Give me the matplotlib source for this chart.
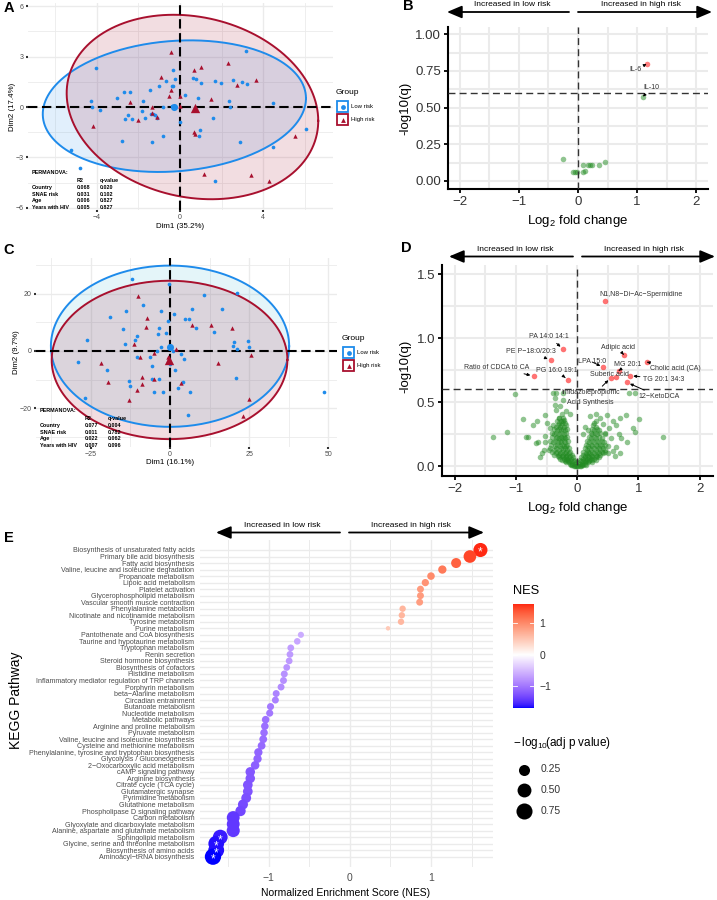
import numpy as np
import matplotlib
matplotlib.use("Agg")
import matplotlib.pyplot as plt
from matplotlib.patches import Rectangle
from matplotlib.colors import ListedColormap, Normalize

plt.rcParams['font.family'] = ['Liberation Sans', 'DejaVu Sans']
plt.rcParams['mathtext.fontset'] = 'custom'
plt.rcParams['mathtext.rm'] = 'Liberation Sans'
plt.rcParams['mathtext.it'] = 'Liberation Sans:italic'

W, H = 717, 900

# ---------------- data ----------------
# panel A (PCA, first set)
a_low = [(3.17, 3.30), (-4.05, 2.32), (-0.32, 2.18), (-0.24, 1.66), (0.61, 1.72), (0.75, 1.68),
         (1.03, 1.43), (1.70, 1.52), (1.97, 1.43), (2.56, 1.62), (2.99, 1.47), (3.21, 1.39),
         (-0.69, 1.56), (-0.99, 1.27), (-0.40, 1.27), (-0.32, 1.27), (-1.44, 1.03), (-2.68, 0.89),
         (-2.40, 0.91), (-3.01, 0.55), (0.24, 0.71), (0.87, 0.51), (-1.76, 0.34), (-4.29, 0.36),
         (2.37, 0.34), (4.49, 0.24), (-4.25, 0.00), (-3.85, -0.16), (-0.40, 0.08), (-0.22, 0.04),
         (-0.83, 0.00), (-1.84, -0.22), (-1.41, -0.40), (-1.31, -0.42), (-1.20, -0.50), (-1.12, -0.67),
         (-1.67, -0.63), (-2.63, -0.71), (-2.50, -0.50), (-2.31, -0.71), (2.40, 0.00), (0.00, -0.91),
         (1.57, -0.65), (0.98, -1.35), (0.91, -1.70), (-0.80, -1.74), (-2.80, -2.04), (-1.33, -2.10),
         (2.88, -2.08), (4.46, -2.38), (6.04, -1.31), (-5.26, -2.57), (-4.79, -3.62), (1.67, -4.40)]
a_high = [(-0.45, 3.25), (2.29, 2.61), (0.67, 2.18), (1.01, 2.38), (3.65, 1.58), (-0.91, 1.78),
          (2.72, 1.29), (-0.45, 1.03), (-0.53, 0.67), (0.02, 0.67), (1.47, 0.50), (-2.40, 0.28),
          (-1.33, 0.00), (-1.36, -0.36), (-1.12, -0.59), (-2.00, -0.79), (-4.20, -1.11), (0.67, -1.50),
          (0.71, -1.60), (5.51, -1.70), (1.17, -3.96), (3.40, -4.06), (4.26, -4.42), (0.00, 0.04)]
a_centers = [(-0.30, 0.02), (0.72, -0.06)]
# ellipse: centre x, centre y, half-range x, half-range y, correlation
a_ellipses = [(-0.27, 0.05, 6.33, 3.91, 0.12), (0.60, 0.00, 6.05, 5.48, -0.15)]
a_perm = [("Country", "0.068", "0.020"), ("SNAE risk", "0.031", "0.102"),
          ("Age", "0.006", "0.827"), ("Years with HIV", "0.005", "0.827")]

# panel C (PCA, second set)
c_low = [(-12.1, 25.2), (-0.3, 23.3), (10.7, 19.7), (21.1, 20.2), (-8.4, 15.9), (-13.9, 14.0),
         (-2.9, 13.8), (1.4, 12.8), (16.4, 14.6), (-19.0, 12.0), (6.8, 14.6), (4.7, 11.3),
         (6.1, 11.1), (-0.7, 10.3), (-14.9, 7.8), (-3.5, 8.0), (8.3, 7.9), (14.0, 6.5),
         (-3.7, 5.9), (-1.4, 6.2), (-10.4, 5.2), (-11.0, 3.8), (-26.2, 3.8), (-14.1, 2.3),
         (20.2, 3.0), (19.8, 1.6), (24.6, 3.6), (25.0, 1.2), (21.2, 0.6), (-2.8, 1.3),
         (-4.2, -0.2), (0.8, -0.2), (-10.5, -2.2), (-6.3, -2.0), (3.5, -1.0), (4.3, -2.9),
         (-29.2, -3.7), (-0.1, -4.7), (-5.6, -5.1), (-19.8, -6.8), (1.7, -6.8), (20.7, -9.3),
         (-5.7, -9.8), (-3.6, -9.8), (-12.9, -10.6), (-12.6, -12.2), (4.1, -10.7), (2.4, -12.9),
         (-5.0, -14.2), (-2.1, -14.2), (6.3, -14.5), (48.6, -14.2), (-26.7, -16.3), (5.7, -22.4)]
c_high = [(-10.2, 19.2), (-7.3, 11.5), (-7.6, 8.3), (6.9, 8.9), (12.9, 9.0), (19.6, 7.9),
          (-11.4, 2.3), (1.9, 0.8), (-9.5, -2.2), (-5.0, -0.8), (-21.8, -4.1), (-0.6, -2.0),
          (-0.4, -2.9), (25.7, -1.5), (15.1, -4.3), (-8.7, -9.0), (-5.0, -9.7), (3.5, -11.1),
          (-19.5, -10.7), (-9.0, -11.7), (-10.3, -13.8), (-13.1, -17.2), (25.0, -16.7), (22.9, -22.6)]
c_centers = [(0.1, 1.5), (-0.3, -3.3)]
c_ellipses = [(0.0, 1.65, 37.6, 28.2, 0.0), (-0.15, -3.15, 37.2, 27.7, 0.0)]
c_perm = [("Country", "0.077", "0.004"), ("SNAE risk", "0.011", "0.782"),
          ("Age", "0.022", "0.062"), ("Years with HIV", "0.007", "0.096")]

# panel B (cytokines volcano)
b_lfc = [-0.25, -0.09, -0.05, -0.02, 0.08, 0.09, 0.12, 0.17, 0.20, 0.23, 0.36, 0.46, 1.10, 1.16]
b_logq = [0.148, 0.063, 0.063, 0.063, 0.109, 0.063, 0.070, 0.109, 0.109, 0.109, 0.109, 0.127, 0.575, 0.797]
b_labels = ["IL-6", "IL-10"]
b_lab_pts = [(1.16, 0.797), (1.10, 0.575)]
b_lab_pos = [(0.98, 0.76), (1.24, 0.636)]

# panel D (metabolites volcano)
d_sig_names = ["N1,N8\u2212Di\u2212Ac\u2212Spermidine", "PA 14:0 14:1", "PE P\u221218:0/20:3",
               "Ratio of CDCA to CA", "PG 16:0 19:1", "Adipic acid", "LPA 15:0", "MG 20:1",
               "Cholic acid (CA)", "Suberic acid", "Imidazolepropionic\nAcid Synthesis",
               "TG 20:1 34:3", "12\u2212KetoDCA"]
d_sig_lfc = [0.45, -0.23, -0.43, -0.71, -0.15, 0.76, 0.43, 0.68, 1.14, 0.63, 0.55, 0.86, 0.81]
d_sig_logq = [1.29, 0.916, 0.828, 0.705, 0.674, 0.872, 0.773, 0.747, 0.815, 0.695, 0.692, 0.708, 0.656]
d_lab_x = [1.05, -0.46, -0.76, -1.32, -0.33, 0.66, 0.235, 0.83, 1.60, 0.53, 0.22, 1.42, 1.34]
d_lab_y = [1.346, 1.013, 0.895, 0.773, 0.745, 0.927, 0.817, 0.797, 0.763, 0.721, 0.536, 0.682, 0.544]
d_no_arrow = [0, 9]
d_ns = [(-1.02, 0.565), (-0.39, 0.57), (-0.34, 0.575), (-0.36, 0.53), (-0.23, 0.57), (-0.23, 0.52),
        (0.85, 0.57), (0.94, 0.57), (-0.18, 0.43), (-0.37, 0.48), (-0.35, 0.44), (-0.53, 0.40),
        (-0.12, 0.41), (-0.89, 0.367), (-0.66, 0.35), (-0.72, 0.32), (-1.15, 0.27), (-1.38, 0.226),
        (-0.84, 0.23), (-0.80, 0.226), (-0.67, 0.18), (-0.64, 0.19), (-0.53, 0.24), (-0.53, 0.19),
        (-0.54, 0.13), (-0.46, 0.13), (0.31, 0.41), (0.21, 0.39), (0.37, 0.38), (0.48, 0.40),
        (0.59, 0.35), (0.64, 0.32), (0.80, 0.40), (0.70, 0.38), (1.01, 0.37), (0.91, 0.30),
        (0.94, 0.27), (1.40, 0.226), (0.81, 0.19), (0.64, 0.15), (0.52, 0.30), (0.46, 0.26),
        (0.55, 0.22), (0.68, 0.25), (0.72, 0.22), (0.58, 0.12), (0.50, 0.10), (-0.45, 0.30),
        (-0.50, 0.34), (-0.28, 0.47), (-0.25, 0.41), (-0.30, 0.38), (-0.22, 0.36), (0.12, 0.31),
        (0.18, 0.28), (0.10, 0.25), (0.30, 0.35), (0.42, 0.33), (-0.60, 0.07), (-0.58, 0.10),
        (0.62, 0.08), (0.70, 0.10)]
d_core = [(-0.06, 0.005), (-0.04, 0.005), (-0.02, 0.005), (0.0, 0.005), (0.02, 0.005), (0.04, 0.005),
          (0.06, 0.005), (-0.12, 0.02), (-0.08, 0.02), (-0.04, 0.02), (0.04, 0.02), (0.08, 0.02),
          (0.12, 0.02), (-0.20, 0.04), (-0.15, 0.04), (-0.10, 0.04), (-0.06, 0.04), (0.06, 0.04),
          (0.10, 0.04), (0.15, 0.04), (0.20, 0.04), (-0.28, 0.06), (-0.22, 0.06), (-0.16, 0.06),
          (-0.10, 0.06), (0.10, 0.06), (0.16, 0.06), (0.22, 0.06), (0.28, 0.06), (-0.32, 0.08),
          (-0.25, 0.08), (-0.18, 0.08), (-0.12, 0.08), (0.12, 0.08), (0.18, 0.08), (0.25, 0.08),
          (0.32, 0.08), (-0.35, 0.10), (-0.28, 0.10), (-0.20, 0.10), (-0.14, 0.10), (0.14, 0.10),
          (0.20, 0.10), (0.28, 0.10), (0.35, 0.10), (0.42, 0.10), (-0.38, 0.13), (-0.30, 0.13),
          (-0.24, 0.13), (-0.17, 0.13), (0.16, 0.13), (0.22, 0.13), (0.30, 0.13), (0.38, 0.13),
          (0.45, 0.13), (-0.36, 0.16), (-0.28, 0.16), (-0.22, 0.16), (-0.18, 0.16), (0.18, 0.16),
          (0.25, 0.16), (0.32, 0.16), (0.40, 0.16), (0.50, 0.16), (-0.40, 0.19), (-0.32, 0.19),
          (-0.26, 0.19), (-0.20, 0.19), (0.20, 0.19), (0.28, 0.19), (0.36, 0.19), (0.44, 0.19),
          (-0.35, 0.22), (-0.30, 0.22), (-0.25, 0.22), (-0.20, 0.22), (0.22, 0.22), (0.30, 0.22),
          (0.40, 0.22), (-0.38, 0.25), (-0.30, 0.25), (-0.22, 0.25), (0.25, 0.25), (0.32, 0.25),
          (0.45, 0.25), (-0.33, 0.28), (-0.27, 0.28), (-0.20, 0.28), (0.28, 0.28), (0.35, 0.28),
          (-0.35, 0.31), (-0.28, 0.31), (-0.22, 0.31), (0.30, 0.31), (-0.30, 0.34), (-0.25, 0.34),
          (-0.20, 0.34), (0.28, 0.34),
          (-0.10, 0.01), (-0.08, 0.01), (0.08, 0.01), (0.10, 0.01), (0.14, 0.01),
          (-0.18, 0.03), (-0.13, 0.03), (-0.02, 0.03), (0.02, 0.03), (0.13, 0.03), (0.18, 0.03),
          (0.24, 0.03), (-0.25, 0.05), (-0.19, 0.05), (-0.13, 0.05), (-0.05, 0.05), (0.05, 0.05),
          (0.13, 0.05), (0.19, 0.05), (0.25, 0.05), (0.30, 0.05), (-0.30, 0.07), (-0.24, 0.07),
          (-0.19, 0.07), (-0.13, 0.07), (-0.07, 0.07), (0.07, 0.07), (0.13, 0.07), (0.19, 0.07),
          (0.24, 0.07), (0.30, 0.07), (0.36, 0.07), (-0.38, 0.09), (-0.30, 0.09), (-0.23, 0.09),
          (-0.16, 0.09), (-0.09, 0.09), (0.09, 0.09), (0.16, 0.09), (0.23, 0.09), (0.30, 0.09),
          (0.38, 0.09), (-0.42, 0.11), (-0.33, 0.11), (-0.25, 0.11), (-0.18, 0.11), (-0.11, 0.11),
          (0.10, 0.11), (0.17, 0.11), (0.25, 0.11), (0.33, 0.11), (0.40, 0.11), (0.46, 0.11),
          (-0.44, 0.14), (-0.35, 0.14), (-0.27, 0.14), (-0.20, 0.14), (-0.13, 0.14), (0.12, 0.14),
          (0.19, 0.14), (0.27, 0.14), (0.35, 0.14), (0.42, 0.14), (-0.43, 0.17), (-0.33, 0.17),
          (-0.25, 0.17), (-0.16, 0.17), (0.14, 0.17), (0.22, 0.17), (0.30, 0.17), (0.37, 0.17),
          (0.46, 0.17), (-0.44, 0.20), (-0.36, 0.20), (-0.28, 0.20), (-0.22, 0.20), (-0.15, 0.20),
          (0.16, 0.20), (0.24, 0.20), (0.33, 0.20), (0.41, 0.20), (-0.41, 0.23), (-0.33, 0.23),
          (-0.27, 0.23), (-0.22, 0.23), (-0.16, 0.23), (0.19, 0.23), (0.27, 0.23), (0.35, 0.23),
          (-0.42, 0.26), (-0.34, 0.26), (-0.26, 0.26), (-0.18, 0.26), (0.22, 0.26), (0.29, 0.26),
          (0.38, 0.26), (-0.38, 0.29), (-0.30, 0.29), (-0.24, 0.29), (-0.17, 0.29), (0.24, 0.29),
          (0.33, 0.29), (-0.40, 0.32), (-0.32, 0.32), (-0.26, 0.32), (-0.19, 0.32), (0.26, 0.32),
          (-0.33, 0.35), (-0.27, 0.35), (-0.23, 0.35), (-0.29, 0.38), (-0.24, 0.38)]

# panel E (KEGG enrichment)
pathways = ["Biosynthesis of unsaturated fatty acids", "Primary bile acid biosynthesis",
            "Fatty acid biosynthesis", "Valine, leucine and isoleucine degradation",
            "Propanoate metabolism", "Lipoic acid metabolism", "Platelet activation",
            "Glycerophospholipid metabolism", "Vascular smooth muscle contraction",
            "Phenylalanine metabolism", "Nicotinate and nicotinamide metabolism",
            "Tyrosine metabolism", "Purine metabolism", "Pantothenate and CoA biosynthesis",
            "Taurine and hypotaurine metabolism", "Tryptophan metabolism", "Renin secretion",
            "Steroid hormone biosynthesis", "Biosynthesis of cofactors", "Histidine metabolism",
            "Inflammatory mediator regulation of TRP channels", "Porphyrin metabolism",
            "beta\u2212Alanine metabolism", "Circadian entrainment", "Butanoate metabolism",
            "Nucleotide metabolism", "Metabolic pathways", "Arginine and proline metabolism",
            "Pyruvate metabolism", "Valine, leucine and isoleucine biosynthesis",
            "Cysteine and methionine metabolism",
            "Phenylalanine, tyrosine and tryptophan biosynthesis", "Glycolysis / Gluconeogenesis",
            "2\u2212Oxocarboxylic acid metabolism", "cAMP signaling pathway", "Arginine biosynthesis",
            "Citrate cycle (TCA cycle)", "Glutamatergic synapse", "Pyrimidine metabolism",
            "Glutathione metabolism", "Phospholipase D signaling pathway", "Carbon metabolism",
            "Glyoxylate and dicarboxylate metabolism", "Alanine, aspartate and glutamate metabolism",
            "Sphingolipid metabolism", "Glycine, serine and threonine metabolism",
            "Biosynthesis of amino acids", "Aminoacyl\u2212tRNA biosynthesis"]
nes = [1.61, 1.48, 1.31, 1.14, 1.00, 0.93, 0.87, 0.87, 0.86, 0.65, 0.64, 0.63, 0.47,
       -0.605, -0.65, -0.73, -0.74, -0.75, -0.78, -0.81, -0.82, -0.85, -0.91, -0.92, -0.98,
       -0.99, -1.04, -1.05, -1.06, -1.07, -1.09, -1.13, -1.14, -1.17, -1.23, -1.23, -1.26,
       -1.26, -1.28, -1.32, -1.35, -1.44, -1.44, -1.44, -1.60, -1.65, -1.65, -1.69]
neglog_padj = [0.52, 0.38, 0.18, 0.09, 0.06, 0.05, 0.04, 0.04, 0.04, 0.025, 0.025, 0.025, 0.0005,
               0.02, 0.03, 0.035, 0.035, 0.035, 0.035, 0.04, 0.04, 0.04, 0.04, 0.04, 0.045,
               0.045, 0.06, 0.06, 0.06, 0.07, 0.07, 0.09, 0.09, 0.1, 0.15, 0.15, 0.16,
               0.16, 0.17, 0.18, 0.2, 0.4, 0.4, 0.42, 0.6, 0.7, 0.72, 0.78]
starred = [0, 44, 45, 46, 47]
size_breaks = [0.25, 0.50, 0.75]

# ---------------- helpers ----------------
LOW_COL = "#1E8BEB"
HIGH_COL = "#A8102E"
GRID = "#EBEBEB"


def rect(l, t, r, b):
    return [l / W, 1 - b / H, (r - l) / W, (b - t) / H]


def ellipse(cx, cy, rx, ry, rho):
    t = np.linspace(0, 2 * np.pi, 300)
    return cx + rx * np.cos(t), cy + ry * (rho * np.cos(t) + np.sqrt(1 - rho ** 2) * np.sin(t))


WHITE = np.array([0.95047, 1.0, 1.08883])
MXYZ = np.array([[0.4124, 0.3576, 0.1805], [0.2126, 0.7152, 0.0722], [0.0193, 0.1192, 0.9505]])


def to_lab(rgb):
    c = np.asarray(rgb, float)
    lin = np.where(c <= 0.04045, c / 12.92, ((c + 0.055) / 1.055) ** 2.4)
    xyz = MXYZ @ lin / WHITE
    d = 6 / 29
    f = np.where(xyz > d ** 3, np.cbrt(xyz), xyz / (3 * d * d) + 4 / 29)
    return np.array([116 * f[1] - 16, 500 * (f[0] - f[1]), 200 * (f[1] - f[2])])


def from_lab(lab):
    L, a, b = lab
    d = 6 / 29
    fyy = (L + 16) / 116
    f = np.array([fyy + a / 500, fyy, fyy - b / 200])
    xyz = np.where(f > d, f ** 3, 3 * d * d * (f - 4 / 29)) * WHITE
    lin = np.clip(np.linalg.solve(MXYZ, xyz), 0, 1)
    c = np.where(lin <= 0.0031308, 12.92 * lin, 1.055 * lin ** (1 / 2.4) - 0.055)
    return np.clip(c, 0, 1)


lab_lo, lab_mid, lab_hi = to_lab((0, 0, 1)), to_lab((1, 1, 1)), to_lab((1, 0, 0))
cols = []
for t in np.linspace(0, 1, 256):
    if t < 0.5:
        cols.append(from_lab(lab_lo + (lab_mid - lab_lo) * (t / 0.5)))
    else:
        cols.append(from_lab(lab_mid + (lab_hi - lab_mid) * ((t - 0.5) / 0.5)))
nes_cmap = ListedColormap(cols)
nes_norm = Normalize(-1.70, 1.70)


def pca_panel(ax, low, high, centers, ells, fills, xlim, ylim, xt, yt, xminor, yminor):
    ax.set_xlim(*xlim)
    ax.set_ylim(*ylim)
    ax.set_xticks(xt)
    ax.set_yticks(yt)
    ax.set_xticks(xminor, minor=True)
    ax.set_yticks(yminor, minor=True)
    ax.grid(which='major', color=GRID, lw=1.0)
    ax.grid(which='minor', color=GRID, lw=0.6)
    ax.set_axisbelow(True)
    for s in ax.spines.values():
        s.set_visible(False)
    ax.tick_params(which='major', length=1.5, width=1.5, color='#333333', labelsize=5,
                   labelcolor='#4D4D4D', pad=1.5)
    ax.tick_params(which='minor', length=0)
    for (cx, cy, rx, ry, rho), col, fc, fa in zip(ells, [LOW_COL, HIGH_COL], fills, [0.13, 0.14]):
        ex, ey = ellipse(cx, cy, rx, ry, rho)
        ax.fill(ex, ey, color=fc, alpha=fa, lw=0, zorder=1)
        ax.plot(ex, ey, color=col, lw=1.4, zorder=2)
    ax.axhline(0, color='black', lw=1.5, ls=(0, (4.5, 2.2)), zorder=3)
    ax.axvline(0, color='black', lw=1.5, ls=(0, (4.5, 2.2)), zorder=3)
    lx, ly = np.array(low).T
    hx, hy = np.array(high).T
    ax.scatter(lx, ly, s=7, color=LOW_COL, lw=0, zorder=4)
    ax.scatter(hx, hy, s=10, color=HIGH_COL, marker='^', lw=0, zorder=4)
    ax.scatter([centers[0][0]], [centers[0][1]], s=26, color=LOW_COL, lw=0, zorder=5)
    ax.scatter([centers[1][0]], [centers[1][1]], s=45, color=HIGH_COL, marker='^', lw=0, zorder=5)


def volcano_axes(ax, xlim, ylim, yt, yminor, yfmt):
    ax.set_xlim(*xlim)
    ax.set_ylim(*ylim)
    ax.set_xticks([-2, -1, 0, 1, 2])
    ax.set_xticks([-1.5, -0.5, 0.5, 1.5], minor=True)
    ax.set_yticks(yt)
    ax.set_yticklabels([yfmt.format(v) for v in yt])
    ax.set_yticks(yminor, minor=True)
    ax.grid(which='both', color=GRID, lw=1.5)
    ax.set_axisbelow(True)
    ax.spines['top'].set_visible(False)
    ax.spines['right'].set_visible(False)
    ax.spines['left'].set_linewidth(1.5)
    ax.spines['bottom'].set_linewidth(1.5)
    ax.tick_params(which='major', length=3, width=1.3, labelsize=9.5, labelcolor='#333333', pad=2)
    ax.tick_params(which='minor', length=0)
    ax.axvline(0, color='#333333', lw=1.0, ls=(0, (5, 3)), zorder=4)
    ax.axhline(-np.log10(0.25), color='#333333', lw=1.0, ls=(0, (5, 3)), zorder=4)


fig = plt.figure(figsize=(W / 100, H / 100), dpi=100)

# ---------------- panel A ----------------
axA = fig.add_axes(rect(28, 3, 333, 210))
pca_panel(axA, a_low, a_high, a_centers, a_ellipses, [LOW_COL, HIGH_COL],
          (-7.31, 7.36), (-6.12, 6.18), [-4, 0, 4], [-6, -3, 0, 3, 6],
          [-6, -2, 2, 6], [-4.5, -1.5, 1.5, 4.5])

# ---------------- panel C ----------------
axC = fig.add_axes(rect(36, 258, 337, 447))
pca_panel(axC, c_low, c_high, c_centers, c_ellipses, ["#2FB5D8", HIGH_COL],
          (-42.3, 52.7), (-33.6, 32.5), [-25, 0, 25, 50], [-20, 0, 20],
          [-37.5, -12.5, 12.5, 37.5], [-30, -10, 10, 30])

# ---------------- panel B ----------------
axB = fig.add_axes(rect(448, 27, 708, 189))
volcano_axes(axB, (-2.2, 2.2), (-0.055, 1.05), [0, 0.25, 0.5, 0.75, 1.0],
             [0.125, 0.375, 0.625, 0.875], "{:.2f}")
bx = np.array(b_lfc)
by = np.array(b_logq)
sig = by > -np.log10(0.25)
axB.scatter(bx[~sig], by[~sig], s=16, color='forestgreen', alpha=0.5, lw=0, zorder=3)
axB.scatter(bx[sig], by[sig], s=16, color='red', alpha=0.5, lw=0, zorder=3)
for lab, pt, pos in zip(b_labels, b_lab_pts, b_lab_pos):
    axB.annotate(lab, xy=pt, xytext=pos, fontsize=5, color='#333333', ha='center', va='center',
                 arrowprops=dict(arrowstyle='-|>', color='black', lw=0.7, mutation_scale=4,
                                 shrinkA=0.5, shrinkB=2.5), zorder=6)

# ---------------- panel D ----------------
axD = fig.add_axes(rect(442, 265, 713, 476))
volcano_axes(axD, (-2.21, 2.22), (-0.076, 1.573), [0, 0.5, 1.0, 1.5],
             [0.25, 0.75, 1.25], "{:.1f}")
gx, gy = np.array(d_ns + d_core).T
axD.scatter(gx, gy, s=16, color='forestgreen', alpha=0.5, lw=0, zorder=3)
axD.scatter(d_sig_lfc, d_sig_logq, s=16, color='red', alpha=0.55, lw=0, zorder=3)
for i, name in enumerate(d_sig_names):
    if i in d_no_arrow:
        axD.text(d_lab_x[i], d_lab_y[i], name, fontsize=5, color='#333333', ha='center',
                 va='center', zorder=6, linespacing=1.5)
    else:
        axD.annotate(name, xy=(d_sig_lfc[i], d_sig_logq[i]), xytext=(d_lab_x[i], d_lab_y[i]),
                     fontsize=5, color='#333333', ha='center', va='center', linespacing=1.5,
                     arrowprops=dict(arrowstyle='-|>', color='black', lw=0.7, mutation_scale=4,
                                     shrinkA=0.5, shrinkB=2.5), zorder=6)

# ---------------- panel E ----------------
axE = fig.add_axes(rect(200, 540, 493, 867))
n = len(pathways)
ypos = np.arange(n)[::-1] + 1
axE.set_xlim(-1.85, 1.765)
axE.set_ylim(-0.58, n + 1.53)
axE.set_yticks(ypos)
axE.set_yticklabels(pathways)
axE.set_xticks([-1, 0, 1])
axE.set_xticklabels(["\u22121", "0", "1"])
axE.set_xticks([-1.5, -0.5, 0.5, 1.5], minor=True)
axE.grid(which='major', color=GRID, lw=1.0)
axE.grid(which='minor', axis='x', color=GRID, lw=0.7)
axE.set_axisbelow(True)
for s in axE.spines.values():
    s.set_visible(False)
axE.tick_params(axis='y', length=0, labelsize=5.1, labelcolor='#4D4D4D', pad=4)
axE.tick_params(axis='x', which='both', length=0, labelsize=7.5, labelcolor='#4D4D4D', pad=4)
pv = np.array(neglog_padj)
diam_pt = (4.2 + 13.7 * np.sqrt(pv)) * 0.72
axE.scatter(nes, ypos, s=diam_pt ** 2, c=nes, cmap=nes_cmap, norm=nes_norm, lw=0, zorder=3)
for i in starred:
    axE.text(nes[i], ypos[i] - 0.45, "*", color='white', fontsize=8.5, ha='center', va='center',
             zorder=4)

# colour bar
axCB = fig.add_axes(rect(513, 604, 534, 708))
grad = np.linspace(1.61, min(nes), 200).reshape(-1, 1)
axCB.imshow(grad, cmap=nes_cmap, norm=nes_norm, aspect='auto',
            extent=[0, 1, min(nes), 1.61])
axCB.set_xticks([])
axCB.set_yticks([-1, 0, 1])
axCB.set_yticklabels(["\u22121", "0", "1"])
axCB.yaxis.tick_right()
axCB.tick_params(axis='y', length=0, labelsize=7.5, labelcolor='#333333', pad=4)
for s in axCB.spines.values():
    s.set_visible(False)
for v in [-1, 0, 1]:
    axCB.plot([0, 0.2], [v, v], color='white', lw=0.6)
    axCB.plot([0.8, 1], [v, v], color='white', lw=0.6)
axCB.set_xlim(0, 1)
axCB.set_ylim(min(nes), 1.61)

# ---------------- overlay (pixel coordinates) ----------------
ov = fig.add_axes([0, 0, 1, 1], zorder=10)
ov.set_xlim(0, W)
ov.set_ylim(H, 0)
ov.axis('off')
ov.patch.set_alpha(0)

for lab, x, y in [("A", 9, 8), ("B", 408, 6), ("C", 9, 250), ("D", 406, 248), ("E", 9, 538)]:
    ov.text(x, y, lab, fontsize=10.5, fontweight='bold', ha='center', va='center')

# axis titles
ov.text(180, 226, "Dim1 (35.2%)", fontsize=5.7, ha='center', va='center')
ov.text(13, 107, "Dim2 (17.4%)", fontsize=5.7, ha='center', va='center', rotation=90)
ov.text(170, 463, "Dim1 (16.1%)", fontsize=5.7, ha='center', va='center')
ov.text(17, 352, "Dim2 (9.7%)", fontsize=5.7, ha='center', va='center', rotation=90)
ov.text(578, 221, r"Log$_2$ fold change", fontsize=9.5, ha='center', va='center')
ov.text(405, 108, "-log10(q)", fontsize=9.5, ha='center', va='center', rotation=90)
ov.text(578, 508, r"Log$_2$ fold change", fontsize=9.5, ha='center', va='center')
ov.text(405, 366, "-log10(q)", fontsize=9.5, ha='center', va='center', rotation=90)
ov.text(346, 893, "Normalized Enrichment Score (NES)", fontsize=7.5, ha='center', va='center')
ov.text(16, 700, "KEGG Pathway", fontsize=10, ha='center', va='center', rotation=90)

# PERMANOVA tables
for (x0, x1, x2, y0, dy), rows in [((32, 77, 100, 173, 6.7), a_perm), ((40, 85, 108, 411, 6.7), c_perm)]:
    kw = dict(fontsize=3.9, fontweight='bold', va='center', ha='left')
    ov.text(x0, y0, "PERMANOVA:", **kw)
    ov.text(x1, y0 + 7.7, "R2", **kw)
    ov.text(x2, y0 + 7.7, "q-value", **kw)
    for k, (nm, r2, q) in enumerate(rows):
        yy = y0 + 14.5 + k * dy
        ov.text(x0, yy, nm, **kw)
        ov.text(x1, yy, r2, **kw)
        ov.text(x2, yy, q, **kw)

# group legends
for gx0, gy0 in [(336, 93), (342, 339)]:
    ov.text(gx0, gy0, "Group", fontsize=6, ha='left', va='center')
    for k, (col, mk, lab) in enumerate([(LOW_COL, 'o', "Low risk"), (HIGH_COL, '^', "High risk")]):
        top = gy0 + 8 + k * 13
        ov.add_patch(Rectangle((gx0 + 1, top), 11, 11, fill=False, edgecolor=col, lw=1.3))
        ov.scatter([gx0 + 6.5], [top + 5.5], s=12, marker=mk, color=col, lw=0)
        ov.text(gx0 + 15, top + 5.5, lab, fontsize=4.3, ha='left', va='center')

# direction arrows
arrow_kw = dict(arrowstyle='-|>,head_length=0.9,head_width=0.38', color='black', lw=1.3,
                mutation_scale=10, shrinkA=0, shrinkB=0)
for (l0, l1, r0, r1, yy, tl, tr) in [(569, 447, 578, 712, 12, 512, 641),
                                      (573, 449, 582, 715, 256.5, 515, 644),
                                      (340, 216, 349, 484, 532.5, 282, 411)]:
    ov.annotate("", xy=(l1, yy), xytext=(l0, yy), arrowprops=arrow_kw)
    ov.annotate("", xy=(r1, yy), xytext=(r0, yy), arrowprops=arrow_kw)
    ov.text(tl, yy - 7, "Increased in low risk", fontsize=6, ha='center', va='center')
    ov.text(tr, yy - 7, "Increased in high risk", fontsize=6, ha='center', va='center')

# NES legend titles and size legend
ov.text(513, 591, "NES", fontsize=9.3, ha='left', va='center')
ov.text(513, 743, r"$-\,\mathrm{log}_{10}\!\left(\mathrm{adj\ p\ value}\right)$", fontsize=8.5,
        ha='left', va='center')
for k, b in enumerate(size_breaks):
    yy = 769.5 + k * 20.8
    d = (4.2 + 13.7 * np.sqrt(b)) * 0.72
    ov.scatter([523.5], [yy], s=d ** 2, color='black', lw=0)
    ov.text(541, yy, f"{b:.2f}", fontsize=7.5, color='#333333', ha='left', va='center')

fig.savefig("out.png", dpi=100)
